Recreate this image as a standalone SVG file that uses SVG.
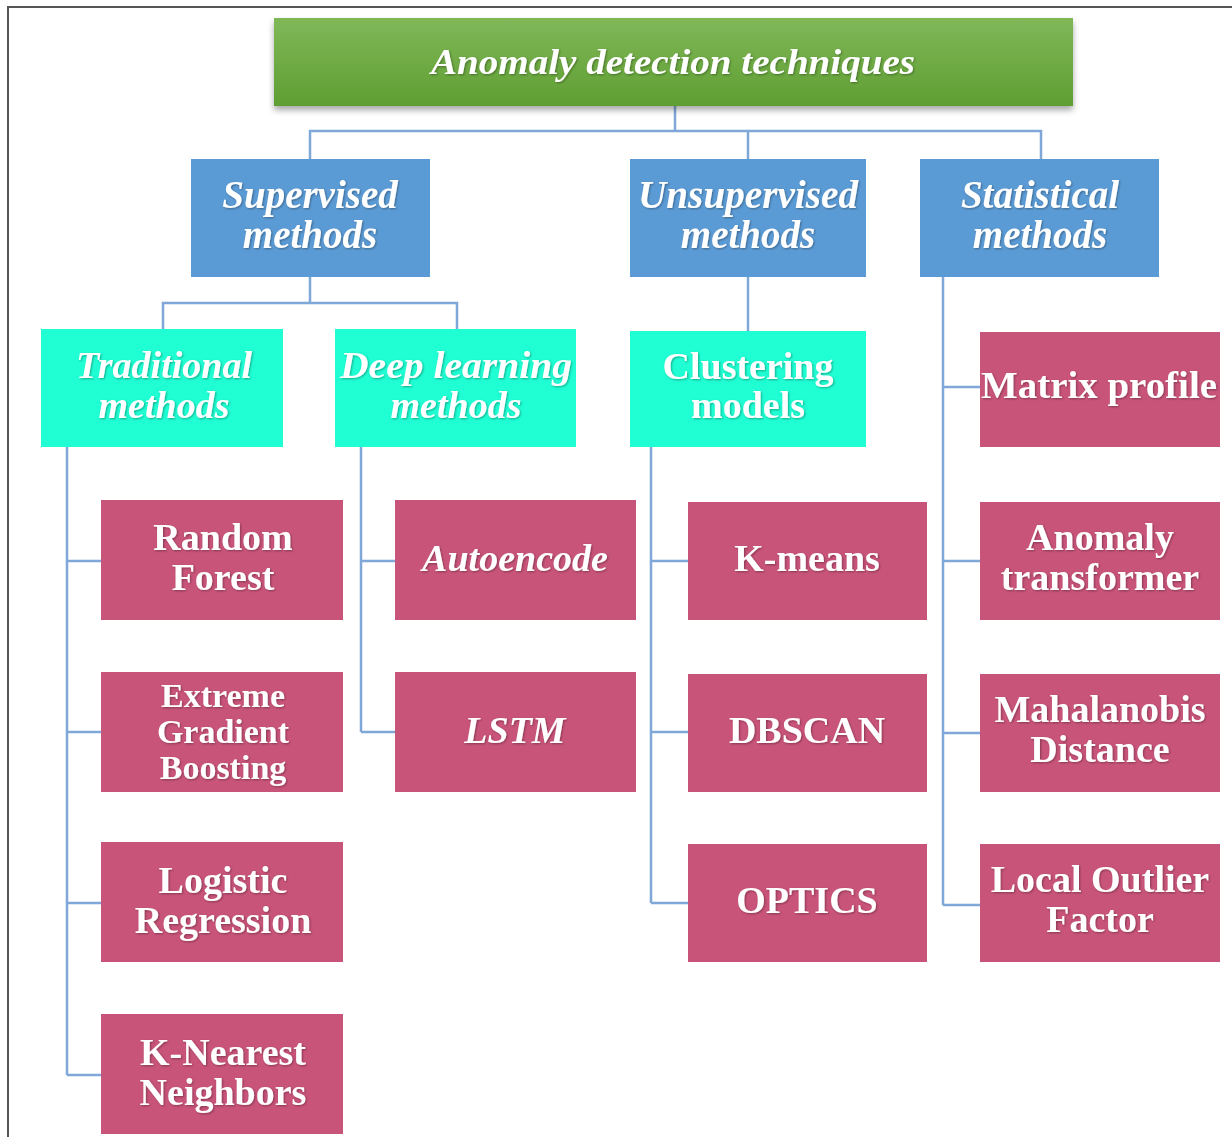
<svg xmlns="http://www.w3.org/2000/svg" width="1232" height="1137" viewBox="0 0 1232 1137">
<defs>
<linearGradient id="gRoot" x1="0" y1="0" x2="0" y2="1">
<stop offset="0" stop-color="#80b858"/>
<stop offset="1" stop-color="#5f9e32"/>
</linearGradient>
<filter id="sh" x="-5%" y="-20%" width="110%" height="150%">
<feDropShadow dx="0" dy="4" stdDeviation="3" flood-color="#000" flood-opacity="0.35"/>
</filter>
<filter id="ts" x="-10%" y="-30%" width="120%" height="160%">
<feDropShadow dx="1" dy="1" stdDeviation="1" flood-color="#000" flood-opacity="0.35"/>
</filter>
</defs>
<style>
.blue{fill:#5b9bd5}
.teal{fill:#1fffd3}
.pink{fill:#c9547a}
.t{font-family:"Liberation Serif","Times New Roman",serif;font-weight:bold;fill:#fff;text-anchor:middle;filter:url(#ts);font-size:38px}
.i{font-style:italic}
.c{fill:none;stroke:#7fa8d8;stroke-width:2.5}
.frame{fill:none;stroke:#555;stroke-width:2}
</style>
<rect width="1232" height="1137" fill="#fff"/>
<path class="frame" d="M8 1137V7H1232"/>
<g id="connectors">
<path class="c" d="M675 106V131M310 159V131H1041V159M748 131V159"/>
<path class="c" d="M310 277V303M163 330V303H457V330"/>
<path class="c" d="M748 277V331"/>
<path class="c" d="M943 277V905M943 387H980M943 561H980M943 733H980M943 905H980"/>
<path class="c" d="M67 447V1075M67 561H101M67 732H101M67 903H101M67 1075H101"/>
<path class="c" d="M361 447V732M361 561H395M361 732H395"/>
<path class="c" d="M651 447V903M651 561H688M651 732H688M651 903H688"/>
</g>
<g id="root">
<rect x="274" y="18" width="799" height="88" fill="url(#gRoot)" filter="url(#sh)"/>
<text class="t i" x="673" y="74" style="font-size:36px" textLength="484" lengthAdjust="spacingAndGlyphs">Anomaly detection techniques</text>
</g>
<g id="supervised">
<rect class="blue" x="191" y="159" width="239" height="118"/>
<text class="t i" x="310" y="208" style="font-size:39px">Supervised</text>
<text class="t i" x="310" y="248" style="font-size:39px">methods</text>
</g>
<g id="unsupervised">
<rect class="blue" x="630" y="159" width="236" height="118"/>
<text class="t i" x="748" y="208" style="font-size:39px" textLength="220" lengthAdjust="spacingAndGlyphs">Unsupervised</text>
<text class="t i" x="748" y="248" style="font-size:39px">methods</text>
</g>
<g id="statistical">
<rect class="blue" x="920" y="159" width="239" height="118"/>
<text class="t i" x="1040" y="208" style="font-size:39px">Statistical</text>
<text class="t i" x="1040" y="248" style="font-size:39px">methods</text>
</g>
<g id="traditional">
<rect class="teal" x="41" y="329" width="242" height="118"/>
<text class="t i" x="164" y="378">Traditional</text>
<text class="t i" x="164" y="418">methods</text>
</g>
<g id="deeplearning">
<rect class="teal" x="335" y="329" width="241" height="118"/>
<text class="t i" x="456" y="378" textLength="232" lengthAdjust="spacingAndGlyphs">Deep learning</text>
<text class="t i" x="456" y="418">methods</text>
</g>
<g id="clustering">
<rect class="teal" x="630" y="331" width="236" height="116"/>
<text class="t" x="748" y="379">Clustering</text>
<text class="t" x="748" y="418">models</text>
</g>
<g id="randomforest">
<rect class="pink" x="101" y="500" width="242" height="120"/>
<text class="t" x="223" y="550">Random</text>
<text class="t" x="223" y="590">Forest</text>
</g>
<g id="xgboost">
<rect class="pink" x="101" y="672" width="242" height="120"/>
<text class="t" x="223" y="707" style="font-size:34px">Extreme</text>
<text class="t" x="223" y="743" style="font-size:34px">Gradient</text>
<text class="t" x="223" y="779" style="font-size:34px">Boosting</text>
</g>
<g id="logistic">
<rect class="pink" x="101" y="842" width="242" height="120"/>
<text class="t" x="223" y="893">Logistic</text>
<text class="t" x="223" y="933">Regression</text>
</g>
<g id="knn">
<rect class="pink" x="101" y="1014" width="242" height="120"/>
<text class="t" x="223" y="1065">K-Nearest</text>
<text class="t" x="223" y="1105">Neighbors</text>
</g>
<g id="autoencode">
<rect class="pink" x="395" y="500" width="241" height="120"/>
<text class="t i" x="515" y="571">Autoencode</text>
</g>
<g id="lstm">
<rect class="pink" x="395" y="672" width="241" height="120"/>
<text class="t i" x="515" y="743">LSTM</text>
</g>
<g id="kmeans">
<rect class="pink" x="688" y="502" width="239" height="118"/>
<text class="t" x="807" y="571">K-means</text>
</g>
<g id="dbscan">
<rect class="pink" x="688" y="674" width="239" height="118"/>
<text class="t" x="807" y="743">DBSCAN</text>
</g>
<g id="optics">
<rect class="pink" x="688" y="844" width="239" height="118"/>
<text class="t" x="807" y="913">OPTICS</text>
</g>
<g id="matrixprofile">
<rect class="pink" x="980" y="332" width="240" height="115"/>
<text class="t" x="1099" y="398" textLength="236" lengthAdjust="spacingAndGlyphs">Matrix profile</text>
</g>
<g id="anomalytransformer">
<rect class="pink" x="980" y="502" width="240" height="118"/>
<text class="t" x="1100" y="550">Anomaly</text>
<text class="t" x="1100" y="590">transformer</text>
</g>
<g id="mahalanobis">
<rect class="pink" x="980" y="674" width="240" height="118"/>
<text class="t" x="1100" y="722">Mahalanobis</text>
<text class="t" x="1100" y="762">Distance</text>
</g>
<g id="lof">
<rect class="pink" x="980" y="844" width="240" height="118"/>
<text class="t" x="1100" y="892">Local Outlier</text>
<text class="t" x="1100" y="932">Factor</text>
</g>
</svg>
